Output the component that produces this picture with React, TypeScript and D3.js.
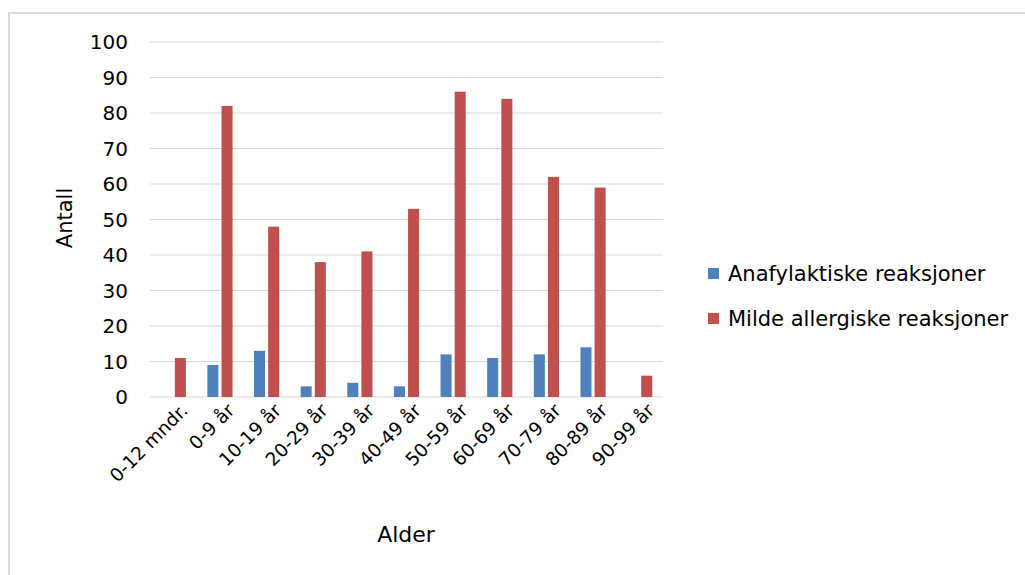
import React from "react";
import * as d3 from "d3";

const categories = [
  "0-12 mndr.", "0-9 år", "10-19 år", "20-29 år", "30-39 år", "40-49 år",
  "50-59 år", "60-69 år", "70-79 år", "80-89 år", "90-99 år",
];
const seriesNames = ["Anafylaktiske reaksjoner", "Milde allergiske reaksjoner"];
const anafylaktiske = [0, 9, 13, 3, 4, 3, 12, 11, 12, 14, 0];
const milde = [11, 82, 48, 38, 41, 53, 86, 84, 62, 59, 6];
const yTicks = [0, 10, 20, 30, 40, 50, 60, 70, 80, 90, 100];
const colors = ["#4f81bd", "#c0504d"];

const W = 1025;
const H = 575;
const FONT = "'DejaVu Sans', sans-serif";

export default function App() {
  const left = 150, right = 663, top = 42, bottom = 397;
  const x = d3.scaleBand<string>().domain(categories).range([left, right]).paddingInner(0.46).paddingOuter(0.23);
  const xs = d3.scaleBand<string>().domain(seriesNames).range([0, x.bandwidth()]).paddingInner(0.22);
  const y = d3.scaleLinear().domain([0, 100]).range([bottom, top]);
  const series = [anafylaktiske, milde];

  return (
    <svg width={W} height={H} style={{ position: "absolute", left: 0, top: 0, background: "#fff" }}>
      <rect x={9} y={13} width={W + 20} height={H + 20} fill="#fff" stroke="#d9d9d9" strokeWidth={2} />
      {yTicks.map((t) => (
        <g key={t}>
          <line x1={left} x2={right} y1={y(t)} y2={y(t)} stroke="#d9d9d9" strokeWidth={1} />
          <text x={128} y={y(t)} dy="0.36em" textAnchor="end" fontFamily={FONT} fontSize={20} fill="#000">
            {t}
          </text>
        </g>
      ))}
      {series.map((vals, si) =>
        vals.map((v, i) =>
          v > 0 ? (
            <rect
              key={`${si}-${i}`}
              x={(x(categories[i]) as number) + (xs(seriesNames[si]) as number)}
              y={y(v)}
              width={xs.bandwidth()}
              height={y(0) - y(v)}
              fill={colors[si]}
            />
          ) : null
        )
      )}
      {categories.map((c) => {
        const cx = (x(c) as number) + x.bandwidth() / 2 + 11;
        const cy = 407;
        return (
          <text
            key={c}
            x={cx}
            y={cy}
            textAnchor="end"
            dy="0.36em"
            transform={`rotate(-45 ${cx} ${cy})`}
            fontFamily={FONT}
            fontSize={18.5}
            fill="#000"
          >
            {c}
          </text>
        );
      })}
      <text
        transform={`translate(72 218) rotate(-90)`}
        textAnchor="middle"
        fontFamily={FONT}
        fontSize={21}
        fill="#000"
      >
        Antall
      </text>
      <text x={406} y={542} textAnchor="middle" fontFamily={FONT} fontSize={22} fill="#000">
        Alder
      </text>
      {seriesNames.map((s, i) => (
        <g key={s} transform={`translate(708 ${273 + i * 45})`}>
          <rect x={0} y={-5} width={11} height={11} fill={colors[i]} />
          <text x={20} y={0} dy="0.36em" fontFamily={FONT} fontSize={21} fill="#000">
            {s}
          </text>
        </g>
      ))}
    </svg>
  );
}
